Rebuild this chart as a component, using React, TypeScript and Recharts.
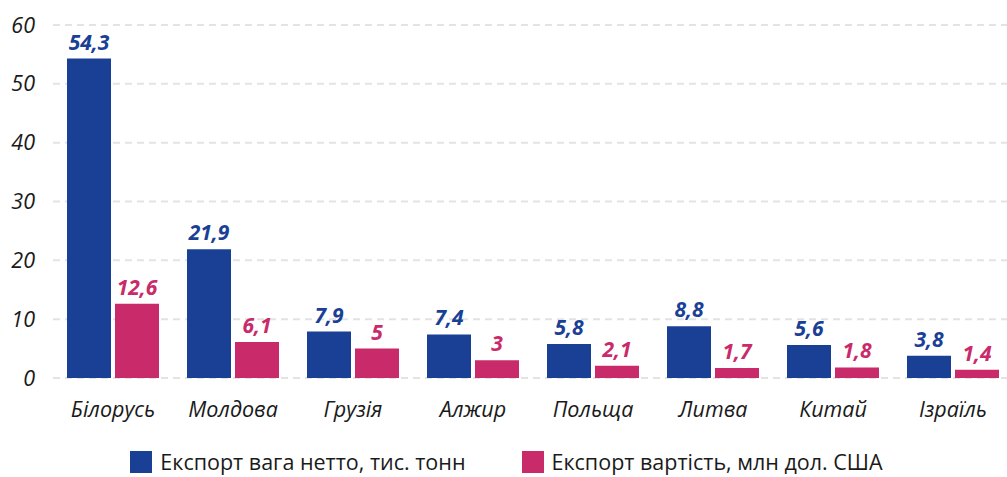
import { BarChart, Bar, XAxis, YAxis, CartesianGrid, LabelList, Legend } from "recharts"

const countries = ["Білорусь", "Молдова", "Грузія", "Алжир", "Польща", "Литва", "Китай", "Ізраїль"]
const weight = [54.3, 21.9, 7.9, 7.4, 5.8, 8.8, 5.6, 3.8]
const value = [12.6, 6.1, 5, 3, 2.1, 1.7, 1.8, 1.4]
const yTicks = [0, 10, 20, 30, 40, 50, 60]

const weightName = "Експорт вага нетто, тис. тонн"
const valueName = "Експорт вартість, млн дол. США"

const BLUE = "#1a4096"
const PINK = "#c92a69"
const FONT = "'Open Sans', 'Noto Sans', sans-serif"

const data = countries.map((name, i) => ({ name, weight: weight[i], value: value[i] }))

const fmt = (v: any) => String(v).replace(".", ",")

function LegendBox() {
  const items = [
    { name: weightName, color: BLUE },
    { name: valueName, color: PINK },
  ]
  return (
    <div style={{ display: "flex", justifyContent: "center", gap: 56, fontFamily: FONT, fontSize: 21.5, lineHeight: "26px", color: "#1a1a1a" }}>
      {items.map((it) => (
        <div key={it.name} style={{ display: "flex", alignItems: "center" }}>
          <span style={{ width: 22, height: 22, background: it.color, display: "inline-block", marginRight: 8 }} />
          <span>{it.name}</span>
        </div>
      ))}
    </div>
  )
}

export default function App() {
  return (
    <div style={{ position: "absolute", left: 0, top: 0, width: 1007, height: 477, overflow: "hidden", background: "#fff" }}>
      <BarChart
        width={1013}
        height={477}
        data={data}
        margin={{ top: 25, right: 0, left: 0, bottom: 0 }}
        barSize={44}
        barGap={4}
        barCategoryGap={14}
      >
        <CartesianGrid vertical={false} stroke="#e3e3e3" strokeWidth={2} strokeDasharray="7 5" />
        <XAxis
          dataKey="name"
          axisLine={false}
          tickLine={false}
          height={73}
          tickMargin={18}
          tick={{ fontFamily: FONT, fontSize: 21.5, fontStyle: "italic", fill: "#1a1a1a" }}
          interval={0}
        />
        <YAxis
          domain={[0, 60]}
          ticks={yTicks}
          axisLine={false}
          tickLine={false}
          width={53}
          tickMargin={12}
          tick={{ fontFamily: FONT, fontSize: 21.5, fontStyle: "italic", fill: "#1a1a1a" }}
        />
        <Legend
          verticalAlign="bottom"
          content={() => <LegendBox />}
          wrapperStyle={{ top: 449, bottom: "auto", left: 0, width: 1013, height: 26 }}
        />
        <Bar dataKey="weight" name={weightName} fill={BLUE} isAnimationActive={false}>
          <LabelList dataKey="weight" position="top" offset={9} formatter={fmt}
            style={{ fontFamily: FONT, fontSize: 21, fontStyle: "italic", fontWeight: 700, fill: BLUE }} />
        </Bar>
        <Bar dataKey="value" name={valueName} fill={PINK} isAnimationActive={false}>
          <LabelList dataKey="value" position="top" offset={9} formatter={fmt}
            style={{ fontFamily: FONT, fontSize: 21, fontStyle: "italic", fontWeight: 700, fill: PINK }} />
        </Bar>
      </BarChart>
    </div>
  )
}
